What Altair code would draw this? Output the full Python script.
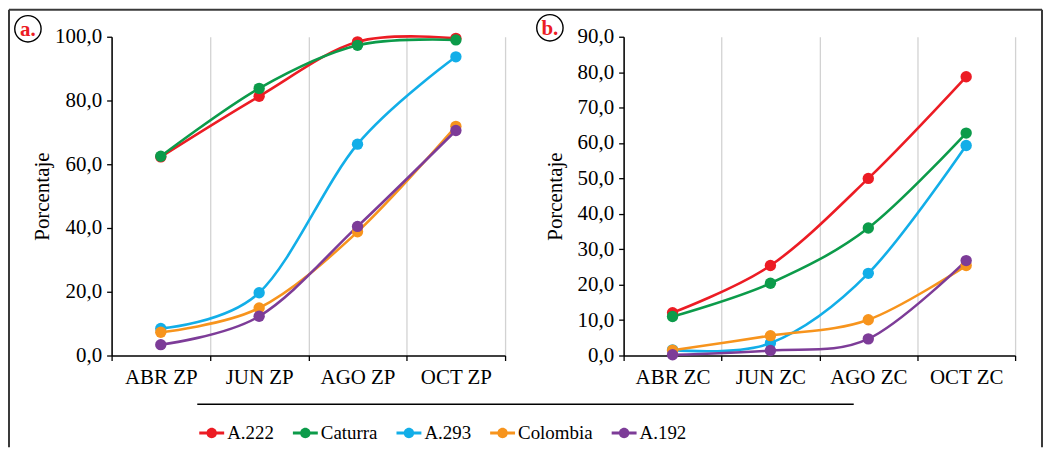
import altair as alt
import pandas as pd

FONT = "Liberation Serif"

series = ["A.222", "Caturra", "A.293", "Colombia", "A.192"]
colors = ["#ec1c24", "#0c9b4a", "#12aee8", "#f7941d", "#7d3c98"]

months_a = ["ABR ZP", "JUN ZP", "AGO ZP", "OCT ZP"]
months_b = ["ABR ZC", "JUN ZC", "AGO ZC", "OCT ZC"]

a_A222 = [62.3, 81.3, 98.4, 99.5]
a_Caturra = [62.5, 83.8, 97.3, 99.0]
a_A293 = [8.5, 19.7, 66.3, 93.7]
a_Colombia = [7.3, 14.9, 38.8, 71.9]
a_A192 = [3.4, 12.3, 40.5, 70.6]

b_A222 = [12.1, 25.4, 50.0, 78.7]
b_Caturra = [11.0, 20.4, 36.0, 62.8]
b_A293 = [1.6, 3.5, 23.2, 59.3]
b_Colombia = [1.5, 5.6, 10.1, 25.4]
b_A192 = [0.2, 1.4, 4.7, 26.8]


def long(months, vals):
    rows = []
    for s, v in zip(series, vals):
        for m, val in zip(months, v):
            rows.append({"mes": m, "serie": s, "valor": val})
    return pd.DataFrame(rows)


df_a = long(months_a, [a_A222, a_Caturra, a_A293, a_Colombia, a_A192])
df_b = long(months_b, [b_A222, b_Caturra, b_A293, b_Colombia, b_A192])

LEG_PATH = ("M-1,-0.12L1,-0.12L1,0.12L-1,0.12Z "
            "M0.42,0A0.42,0.42 0 1,1 -0.42,0A0.42,0.42 0 1,1 0.42,0Z")

one = pd.DataFrame({"k": [0]})


def panel(df, months, ymax, step, letter, lx, ly, legend, extras, w, tpad):
    x = alt.X("mes:N", sort=months, bandPosition=0.5,
              scale=alt.Scale(type="band", paddingInner=0, paddingOuter=0),
              axis=alt.Axis(title=None, tickBand="extent", grid=True,
                            gridColor="#d2d2d2", gridWidth=1.3,
                            domainColor="black", domainWidth=1.5,
                            tickColor="black", tickSize=5, tickWidth=1.3,
                            labelFontSize=21, labelPadding=6, labelAngle=0,
                            labelColor="black", labelFont=FONT))
    y = alt.Y("valor:Q", scale=alt.Scale(domain=[0, ymax], nice=False),
              axis=alt.Axis(title="Porcentaje", values=list(range(0, ymax + 1, step)),
                            labelExpr="replace(format(datum.value, '.1f'), '.', ',')",
                            grid=False, domainColor="black", domainWidth=1.5,
                            tickColor="black", tickSize=5, tickWidth=1.3,
                            labelFontSize=21, labelPadding=5, labelColor="black",
                            labelFont=FONT, titleFont=FONT, titleFontSize=21,
                            titleFontWeight="normal", titleColor="black",
                            titlePadding=tpad))
    cscale = alt.Scale(domain=series, range=colors)
    if legend:
        leg = alt.Legend(orient="none", legendX=88, legendY=385, direction="horizontal",
                         columns=5, title=None, symbolType=LEG_PATH, symbolSize=625,
                         symbolStrokeWidth=0, symbolOpacity=1, labelFontSize=19,
                         labelFont=FONT, labelColor="black", columnPadding=19,
                         labelOffset=3)
    else:
        leg = None
    base = alt.Chart(df)
    lines = base.mark_line(interpolate="cardinal", strokeWidth=2.6).encode(
        x=x, y=y, color=alt.Color("serie:N", scale=cscale, legend=leg),
        detail="serie:N")
    pts = base.mark_circle(size=130, opacity=1).encode(
        x=x, y=y, color=alt.Color("serie:N", scale=cscale, legend=leg))
    ring = alt.Chart(one).mark_point(shape="circle", filled=False, size=700,
                                     color="black", strokeWidth=1.4, opacity=1).encode(
        x=alt.value(lx), y=alt.value(ly))
    lab = alt.Chart(one).mark_text(font=FONT, fontWeight="bold", fontSize=21,
                                   color="#ec1c24", align="center",
                                   baseline="middle").encode(
        x=alt.value(lx), y=alt.value(ly + 1), text=alt.value(letter))
    layers = extras + [lines, pts, ring, lab]
    return alt.layer(*layers).properties(width=w, height=320)


frame_color = "#3a3a3a"
frame_l = alt.Chart(one).mark_rule(color=frame_color, strokeWidth=2).encode(
    x=alt.value(-103), y=alt.value(-27), y2=alt.value(412))
frame_t = alt.Chart(one).mark_rule(color=frame_color, strokeWidth=2).encode(
    x=alt.value(-103), x2=alt.value(934), y=alt.value(-27))
frame_r = alt.Chart(one).mark_rule(color=frame_color, strokeWidth=2).encode(
    x=alt.value(934), y=alt.value(-27), y2=alt.value(412))
sep = alt.Chart(one).mark_rule(color="black", strokeWidth=1.5).encode(
    x=alt.value(86), x2=alt.value(745), y=alt.value(369))

pa = panel(df_a, months_a, 100, 20, "a.", -84, -8, True,
           [frame_l, frame_t, frame_r, sep], 395, 2)
pb = panel(df_b, months_b, 90, 10, "b.", -74, -9, False, [], 393, 12)

chart = alt.hconcat(pa, pb, spacing=119, bounds="flush").resolve_scale(
    y="independent", color="independent").properties(
    padding=0, background="white").configure_view(stroke=None)

chart.save("out.html", embed_options={"renderer": "svg", "actions": False})
